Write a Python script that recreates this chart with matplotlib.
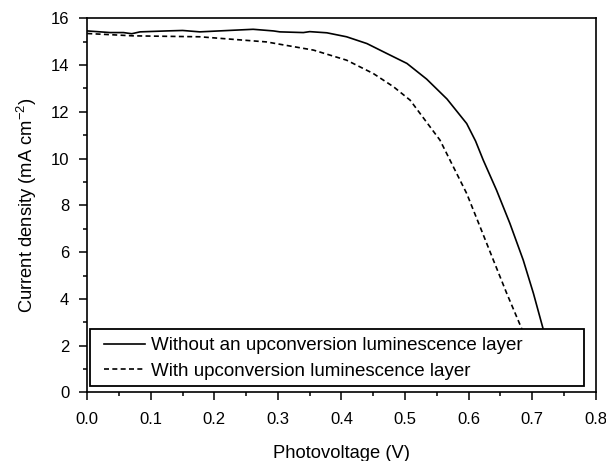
import matplotlib
matplotlib.use("Agg")
import matplotlib.pyplot as plt
from matplotlib.patches import Rectangle
from matplotlib.ticker import MultipleLocator

plt.rcParams["font.family"] = ["Liberation Sans", "DejaVu Sans"]
plt.rcParams["mathtext.fontset"] = "custom"
plt.rcParams["mathtext.rm"] = "Liberation Sans"
plt.rcParams["mathtext.it"] = "Liberation Sans:italic"

# J-V curve without upconversion layer (visible part, down to the legend)
v_without = [0.0, 0.036, 0.057, 0.070, 0.083, 0.125, 0.15, 0.177, 0.230, 0.261,
             0.293, 0.303, 0.340, 0.350, 0.377, 0.408, 0.440, 0.471, 0.503, 0.534,
             0.566, 0.597, 0.611, 0.623, 0.644, 0.665, 0.686, 0.702, 0.7175, 0.720]
j_without = [15.46, 15.39, 15.39, 15.34, 15.42, 15.46, 15.48, 15.42, 15.49, 15.53,
             15.46, 15.42, 15.39, 15.43, 15.38, 15.21, 14.92, 14.50, 14.07, 13.40,
             12.55, 11.50, 10.75, 9.94, 8.65, 7.23, 5.66, 4.24, 2.70, 2.45]

# J-V curve with upconversion layer
v_with = [0.0, 0.072, 0.177, 0.282, 0.303, 0.356, 0.408, 0.450, 0.482, 0.508,
          0.530, 0.555, 0.576, 0.597, 0.618, 0.639, 0.660, 0.684, 0.688]
j_with = [15.35, 15.25, 15.21, 14.99, 14.89, 14.64, 14.21, 13.64, 13.07, 12.50,
          11.70, 10.79, 9.65, 8.51, 7.09, 5.66, 4.24, 2.70, 2.45]

fig = plt.figure(figsize=(6.06, 4.61), dpi=100)
ax = fig.add_axes([0.144, 0.1486, 0.839, 0.8117])

ax.plot(v_without, j_without, color="black", lw=1.2,
        label="Without an upconversion luminescence layer")
ax.plot(v_with, j_with, color="black", lw=1.2, linestyle=(0, (3, 2)),
        label="With upconversion luminescence layer")

ax.set_xlim(0, 0.8)
ax.set_ylim(0, 16)
ax.xaxis.set_major_locator(MultipleLocator(0.1))
ax.xaxis.set_minor_locator(MultipleLocator(0.05))
ax.yaxis.set_major_locator(MultipleLocator(2))
ax.yaxis.set_minor_locator(MultipleLocator(1))
ax.xaxis.set_major_formatter(plt.FuncFormatter(lambda v, p: f"{v:.1f}"))

ax.tick_params(which="both", direction="out", top=False, right=False,
               width=1.1, labelsize=12)
ax.tick_params(which="major", length=6)
ax.tick_params(axis="x", which="major", pad=8)
ax.tick_params(axis="y", which="major", pad=7)
ax.tick_params(which="minor", length=3)
for s in ax.spines.values():
    s.set_linewidth(1.2)

ax.set_xlabel("Photovoltage (V)", fontsize=13.2, labelpad=13)
ax.set_ylabel(r"Current density (mA cm$^{-2}$)", fontsize=13.2, labelpad=8)

# legend box drawn separately so the padding can match the original
box = Rectangle((0.005, 0.017), 0.972, 0.153, transform=ax.transAxes,
                facecolor="white", edgecolor="black", lw=1.3, zorder=4)
ax.add_patch(box)
leg = ax.legend(loc="upper left", bbox_to_anchor=(0.033, 0.1478),
                frameon=False, fontsize=13.5, handlelength=2.2,
                handletextpad=0.28, borderpad=0, borderaxespad=0,
                labelspacing=0.45)
leg.set_zorder(5)

fig.savefig("out.png", dpi=100)
